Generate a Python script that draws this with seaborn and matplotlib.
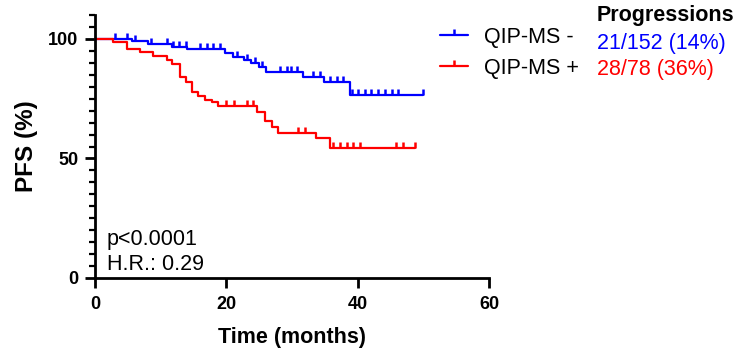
import numpy as np
import pandas as pd
import matplotlib
matplotlib.use('Agg')
import matplotlib.pyplot as plt
import seaborn as sns
from matplotlib.lines import Line2D
from matplotlib.ticker import MultipleLocator

sns.set_theme(style='ticks')
plt.rcParams['font.family'] = ['Liberation Sans', 'DejaVu Sans']
plt.rcParams['text.color'] = 'black'
plt.rcParams['axes.labelcolor'] = 'black'
plt.rcParams['xtick.color'] = 'black'
plt.rcParams['ytick.color'] = 'black'

# ---- data ----
groups = ['QIP-MS -', 'QIP-MS +']
colors = ['#0000FF', '#FF0000']
progressions = ['21/152 (14%)', '28/78 (36%)']

neg_times = [0, 5.7, 8.0, 11.7, 14.0, 19.8, 21.0, 22.7, 23.8, 24.9, 26.0, 31.7, 34.8, 38.8, 50.0]
neg_surv = [100, 99.2, 97.8, 96.6, 95.8, 94.0, 92.6, 91.2, 89.8, 88.4, 86.3, 84.2, 81.9, 76.6, 76.6]
neg_censor = [3.0, 4.9, 6.1, 8.6, 11.0, 11.9, 12.8, 13.9, 16.0, 17.0, 18.0, 19.0, 21.7, 23.2,
              24.3, 25.4, 28.2, 29.2, 29.9, 30.8, 33.2, 34.2, 35.8, 36.8, 37.8,
              39.1, 40.1, 41.1, 42.1, 43.1, 44.1, 45.2, 46.2, 50.0]

pos_times = [0, 2.8, 4.8, 6.8, 8.8, 11.0, 11.8, 12.9, 13.9, 14.7, 15.7, 16.7, 17.8, 18.8,
             24.7, 25.9, 26.9, 27.9, 33.7, 35.8, 48.7]
pos_surv = [100, 98.7, 95.8, 94.4, 93.0, 91.2, 89.4, 84.2, 81.9, 78.0, 76.3, 74.5, 73.5, 72.0,
            69.6, 65.5, 63.0, 60.5, 58.4, 54.3, 54.3]
pos_censor = [19.9, 21.1, 23.1, 24.0, 30.9, 32.0, 36.3, 37.3, 38.3, 39.3, 40.3, 45.9, 46.9, 48.7]

p_text = 'p<0.0001'
hr_text = 'H.R.: 0.29'

curves = [(neg_times, neg_surv, neg_censor), (pos_times, pos_surv, pos_censor)]

W, H = 742, 350
fig = plt.figure(figsize=(W / 100, H / 100), dpi=100)
ax = fig.add_axes([95 / W, 72 / H, (489 - 95) / W, (335 - 72) / H])

for (t, s, c), col, name in zip(curves, colors, groups):
    df = pd.DataFrame({'t': t, 's': s})
    sns.lineplot(data=df, x='t', y='s', drawstyle='steps-post', color=col, lw=1.6,
                 estimator=None, sort=False, ax=ax, clip_on=False)
    idx = np.searchsorted(np.array(t), np.array(c), side='right') - 1
    cdf = pd.DataFrame({'t': c, 's': np.array(s)[idx]})
    sns.scatterplot(data=cdf, x='t', y='s', marker=2, s=16, linewidth=1.8, color=col,
                    ax=ax, clip_on=False)

ax.set_xlim(0, 60)
ax.set_ylim(0, 110)
ax.set_xticks([0, 20, 40, 60])
ax.set_yticks([0, 50, 100])
ax.yaxis.set_minor_locator(MultipleLocator(5))
for side in ['top', 'right']:
    ax.spines[side].set_visible(False)
for side in ['left', 'bottom']:
    ax.spines[side].set_linewidth(2)
    ax.spines[side].set_color('black')
ax.tick_params(axis='both', which='major', length=7, width=2, colors='black', labelsize=13)
ax.tick_params(axis='y', which='minor', length=4, width=1.6, color='black')
ax.tick_params(axis='y', which='major', pad=5)
ax.tick_params(axis='x', which='major', pad=6)
for lab in ax.get_xticklabels() + ax.get_yticklabels():
    lab.set_fontweight('bold')
ax.set_xlabel('Time (months)', fontsize=15.5, fontweight='bold', labelpad=10)
ax.set_ylabel('PFS (%)', fontsize=17.5, fontweight='bold', labelpad=7)

ax.text(107 / W, 1 - 240 / H, p_text, transform=fig.transFigure, fontsize=15.5,
        va='center', ha='left')
ax.text(107 / W, 1 - 264 / H, hr_text, transform=fig.transFigure, fontsize=15.5,
        va='center', ha='left')

handles = [Line2D([], [], color=c, lw=1.6, marker=2, markersize=4, mew=1.8) for c in colors]
fig.legend(handles, groups, loc='upper left', bbox_to_anchor=(440 / W, 1 - 27 / H),
           frameon=False, fontsize=15.5, handlelength=1.3, handletextpad=0.75,
           borderpad=0, borderaxespad=0, labelspacing=0.45, numpoints=1)

fig.text(597 / W, 1 - 16 / H, 'Progressions', fontsize=15.5, fontweight='bold',
         va='center', ha='left')
for txt, col, y in zip(progressions, colors, [44, 69]):
    fig.text(597 / W, 1 - y / H, txt, fontsize=15.5, color=col, va='center', ha='left')

fig.savefig('out.png', dpi=100)
